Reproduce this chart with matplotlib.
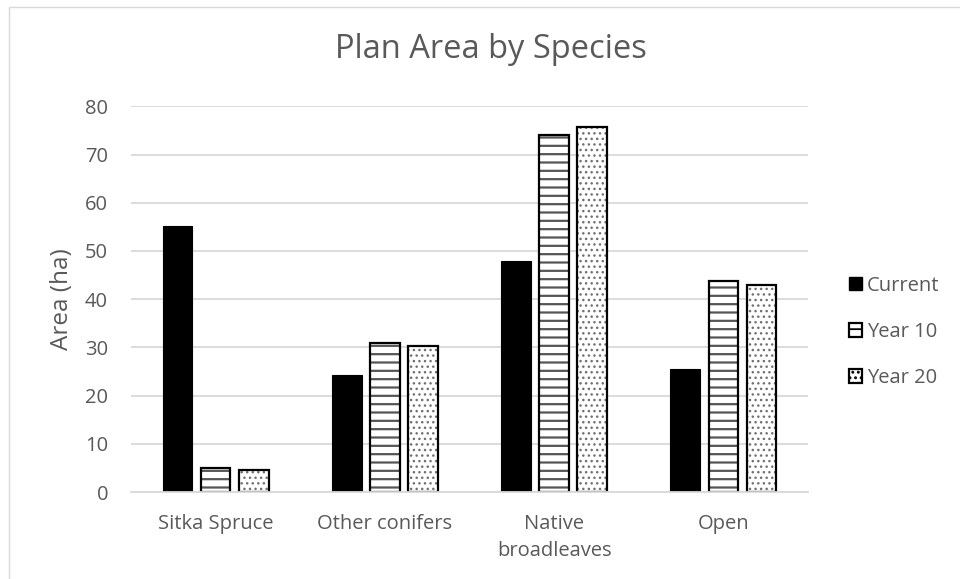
import matplotlib
matplotlib.use('Agg')
import matplotlib.pyplot as plt
from matplotlib.patches import Patch, Rectangle
import numpy as np

# Data
species = ['Sitka Spruce', 'Other conifers', 'Native\nbroadleaves', 'Open']
series = ['Current', 'Year 10', 'Year 20']
current = [55.2, 24.3, 48.0, 25.6]
year_10 = [4.9, 31.0, 74.1, 43.8]
year_20 = [4.6, 30.2, 75.7, 43.0]
y_ticks = [0, 10, 20, 30, 40, 50, 60, 70, 80]

TEXT = '#595959'
GRID = '#d9d9d9'
plt.rcParams['font.family'] = ['Open Sans', 'DejaVu Sans']
plt.rcParams['hatch.linewidth'] = 1.6

W, H = 960, 579
fig = plt.figure(figsize=(W / 100, H / 100), dpi=100)

# light chart-area border (top and left edges are visible)
fig.patches.append(Rectangle((9 / W, -0.1), 1.2, 1 - 7 / H + 0.1,
                             transform=fig.transFigure, fill=False,
                             edgecolor=GRID, linewidth=1.0))

left, right, top, base = 131, 808, 106.4, 492
ax = fig.add_axes([left / W, 1 - base / H, (right - left) / W, (base - top) / H])

x = np.arange(len(species))
width = 0.175
step = 0.225

ax.bar(x - step, current, width, color='black', edgecolor='black',
       linewidth=0.8, zorder=3)

# hatched bars: gray hatch, then black outline on top
ax.bar(x, year_10, width, color='white', edgecolor='#555555', hatch='--',
       linewidth=0, zorder=3)
ax.bar(x, year_10, width, fill=False, edgecolor='black', linewidth=1.6, zorder=4)
plt.rcParams['hatch.linewidth'] = 1.0
ax.bar(x + step, year_20, width, color='white', edgecolor='#707070', hatch='...',
       linewidth=0, zorder=3)
ax.bar(x + step, year_20, width, fill=False, edgecolor='black', linewidth=1.6,
       zorder=4)

ax.set_xlim(-0.5, len(species) - 0.5)
ax.set_ylim(0, 80)
ax.set_yticks(y_ticks)
ax.set_xticks(x)
ax.set_xticklabels(species, linespacing=1.5)
ax.tick_params(axis='both', length=0, colors=TEXT, labelsize=14.5)
ax.tick_params(axis='x', pad=15.5)
ax.tick_params(axis='y', pad=16.5)
ax.yaxis.grid(True, color=GRID, linewidth=1.3, zorder=0)
for s in ['top', 'right', 'left']:
    ax.spines[s].set_visible(False)
ax.spines['bottom'].set_color(GRID)
ax.spines['bottom'].set_linewidth(1.3)
ax.spines['bottom'].set_zorder(5)

ax.set_ylabel('Area (ha)', color=TEXT, fontsize=17.5, va='center')
ax.yaxis.set_label_coords((62 - left) / (right - left), 0.5)

fig.text(491 / W, 1 - 50 / H, 'Plan Area by Species', color=TEXT,
         fontsize=23.5, ha='center', va='center')

plt.rcParams['hatch.linewidth'] = 1.3
handles = [Patch(facecolor='black', edgecolor='black'),
           Patch(facecolor='white', edgecolor='black', hatch='--', linewidth=1.6),
           Patch(facecolor='white', edgecolor='black', hatch='...', linewidth=1.6)]
leg = fig.legend(handles, series, loc='center left',
                 bbox_to_anchor=(849 / W, 1 - 332 / H), frameon=False,
                 fontsize=14.5, handlelength=0.65, handleheight=0.65,
                 handletextpad=0.25, labelspacing=1.3, borderpad=0,
                 borderaxespad=0)
for t in leg.get_texts():
    t.set_color(TEXT)

fig.savefig('out.png', dpi=100)
